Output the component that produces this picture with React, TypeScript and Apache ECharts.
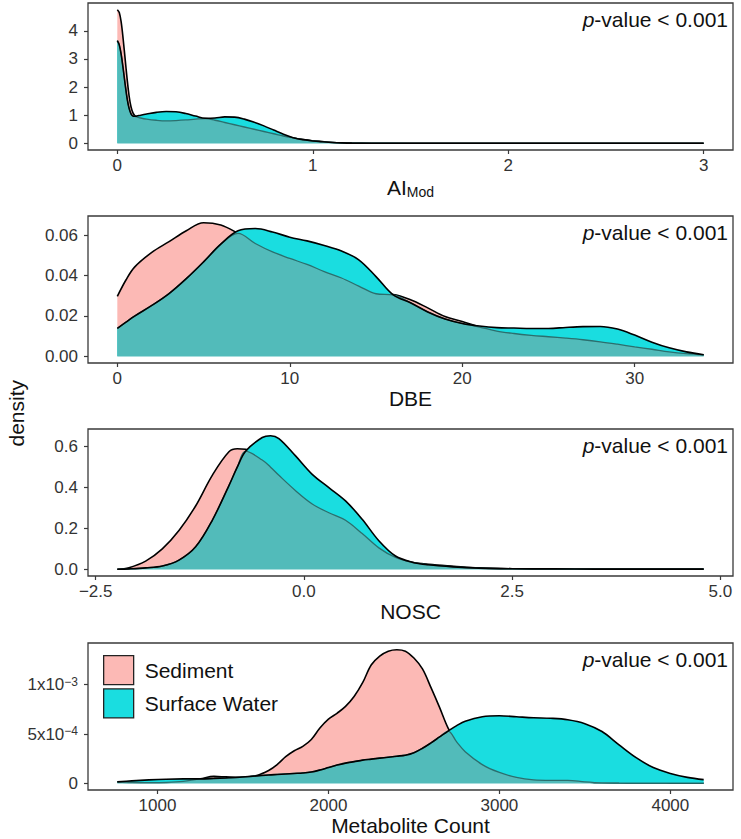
import React, { useEffect, useRef } from "react";
import * as echarts from "echarts";

// ---------- AI_Mod panel ----------
const aiX = [0, 0.01, 0.02, 0.03, 0.04, 0.05, 0.06, 0.07, 0.08, 0.09, 0.1, 0.12, 0.15, 0.2, 0.25, 0.3, 0.35, 0.4, 0.45, 0.5, 0.55, 0.6, 0.65, 0.7, 0.75, 0.8, 0.85, 0.9, 0.95, 1.0, 1.05, 1.1, 1.15, 1.2, 1.3, 1.5, 2.0, 2.5, 3.0];
const aiSediment = [4.75, 4.65, 4.3, 3.7, 3.0, 2.3, 1.7, 1.3, 1.08, 0.98, 0.94, 0.9, 0.86, 0.82, 0.8, 0.81, 0.83, 0.86, 0.88, 0.82, 0.74, 0.66, 0.58, 0.5, 0.42, 0.34, 0.26, 0.19, 0.13, 0.09, 0.06, 0.03, 0.015, 0.008, 0.004, 0.002, 0.001, 0.001, 0.001];
const aiSurfaceWater = [3.65, 3.5, 3.15, 2.65, 2.1, 1.6, 1.25, 1.05, 0.97, 0.96, 0.97, 1.0, 1.04, 1.1, 1.13, 1.12, 1.06, 0.97, 0.89, 0.9, 0.94, 0.93, 0.86, 0.75, 0.62, 0.47, 0.32, 0.2, 0.13, 0.085, 0.055, 0.03, 0.015, 0.007, 0.003, 0.001, 0.0005, 0.0005, 0.0005];
const aiXTicks = [0, 1, 2, 3];
const aiXLabels = ["0", "1", "2", "3"];
const aiYTicks = [0, 1, 2, 3, 4];
const aiYLabels = ["0", "1", "2", "3", "4"];

// ---------- DBE panel ----------
const dbeX = [0, 0.5, 1, 2, 3, 4, 5, 6, 7, 8, 9, 10, 11, 12, 13, 14, 15, 16, 17, 18, 19, 20, 21, 22, 23, 24, 25, 26, 27, 28, 29, 30, 31, 32, 33, 34];
const dbeSediment = [0.0297, 0.0378, 0.0442, 0.0515, 0.0568, 0.0622, 0.0662, 0.065, 0.0609, 0.0559, 0.0517, 0.0485, 0.0455, 0.042, 0.0388, 0.0348, 0.031, 0.0306, 0.028, 0.024, 0.0197, 0.0172, 0.0145, 0.0125, 0.0113, 0.0104, 0.0097, 0.009, 0.0082, 0.0072, 0.006, 0.0047, 0.0035, 0.0022, 0.0013, 0.0007];
const dbeSurfaceWater = [0.0138, 0.0169, 0.0199, 0.0252, 0.0311, 0.0385, 0.0468, 0.0556, 0.0622, 0.0633, 0.0616, 0.059, 0.0572, 0.0549, 0.0522, 0.0478, 0.0395, 0.0304, 0.0265, 0.022, 0.0185, 0.0163, 0.015, 0.0142, 0.014, 0.0138, 0.0138, 0.0143, 0.0147, 0.0148, 0.0135, 0.0105, 0.007, 0.0042, 0.0022, 0.0008];
const dbeXTicks = [0, 10, 20, 30];
const dbeXLabels = ["0", "10", "20", "30"];
const dbeYTicks = [0, 0.02, 0.04, 0.06];
const dbeYLabels = ["0.00", "0.02", "0.04", "0.06"];

// ---------- NOSC panel ----------
const noscX = [-2.24, -2.1, -1.9, -1.7, -1.5, -1.3, -1.1, -0.9, -0.8, -0.7, -0.5, -0.4, -0.3, -0.1, 0.1, 0.3, 0.5, 0.7, 0.9, 1.1, 1.3, 1.5, 1.8, 2.1, 2.5, 3.0, 3.5, 4.0, 4.5, 4.8];
const noscSediment = [0.0, 0.008, 0.04, 0.1, 0.19, 0.31, 0.46, 0.575, 0.59, 0.588, 0.535, 0.5, 0.46, 0.385, 0.32, 0.277, 0.24, 0.175, 0.105, 0.058, 0.034, 0.024, 0.015, 0.007, 0.003, 0.002, 0.001, 0.001, 0.001, 0.001];
const noscSurfaceWater = [0.0, 0.002, 0.007, 0.016, 0.045, 0.11, 0.24, 0.41, 0.5, 0.578, 0.645, 0.654, 0.64, 0.555, 0.465, 0.4, 0.335, 0.245, 0.14, 0.065, 0.035, 0.022, 0.012, 0.006, 0.003, 0.002, 0.001, 0.001, 0.001, 0.001];
const noscXTicks = [-2.5, 0, 2.5, 5];
const noscXLabels = ["\u22122.5", "0.0", "2.5", "5.0"];
const noscYTicks = [0, 0.2, 0.4, 0.6];
const noscYLabels = ["0.0", "0.2", "0.4", "0.6"];

// ---------- Metabolite Count panel ----------
const countX = [765, 850, 950, 1050, 1150, 1250, 1330, 1400, 1480, 1580, 1650, 1700, 1750, 1800, 1850, 1900, 1950, 2000, 2050, 2100, 2150, 2200, 2250, 2300, 2350, 2400, 2450, 2500, 2550, 2600, 2650, 2700, 2750, 2800, 2900, 3000, 3100, 3200, 3300, 3400, 3500, 3600, 3700, 3800, 3900, 4000, 4100, 4195];
const countSediment = [0.15e-4, 0.1e-4, 0.08e-4, 0.1e-4, 0.2e-4, 0.45e-4, 0.7e-4, 0.65e-4, 0.6e-4, 0.8e-4, 1.3e-4, 1.9e-4, 2.7e-4, 3.3e-4, 3.75e-4, 4.45e-4, 5.6e-4, 6.5e-4, 7.1e-4, 7.8e-4, 8.8e-4, 10.2e-4, 12.0e-4, 12.9e-4, 13.4e-4, 13.55e-4, 13.4e-4, 12.7e-4, 11.6e-4, 9.7e-4, 7.7e-4, 5.6e-4, 4.2e-4, 3.2e-4, 1.9e-4, 1.1e-4, 0.6e-4, 0.35e-4, 0.3e-4, 0.3e-4, 0.15e-4, 0.05e-4, 0.03e-4, 0.02e-4, 0.02e-4, 0.01e-4, 0.01e-4, 0.01e-4];
const countSurfaceWater = [0.15e-4, 0.25e-4, 0.35e-4, 0.42e-4, 0.45e-4, 0.45e-4, 0.5e-4, 0.55e-4, 0.62e-4, 0.75e-4, 0.85e-4, 0.9e-4, 0.95e-4, 1.0e-4, 1.05e-4, 1.15e-4, 1.35e-4, 1.6e-4, 1.85e-4, 2.05e-4, 2.2e-4, 2.35e-4, 2.45e-4, 2.55e-4, 2.65e-4, 2.75e-4, 2.85e-4, 3.1e-4, 3.55e-4, 4.1e-4, 4.7e-4, 5.3e-4, 5.85e-4, 6.3e-4, 6.75e-4, 6.85e-4, 6.75e-4, 6.65e-4, 6.6e-4, 6.45e-4, 6.05e-4, 5.25e-4, 3.9e-4, 2.6e-4, 1.6e-4, 1.0e-4, 0.6e-4, 0.37e-4];
const countXTicks = [1000, 2000, 3000, 4000];
const countXLabels = ["1000", "2000", "3000", "4000"];
const countYTicks = [0, 5e-4, 1e-3];
const countYLabels = ["0", "5x10{sup|\u22124}", "1x10{sup|\u22123}"];

const groupNames = ["Sediment", "Surface Water"];
const pValueText = "{i|p}-value < 0.001";
const yTitle = "density";

const PINK = "#FCB9B5";
const CYAN = "#1ADDE0";
const OVERLAP = "#52BBBA";
const HIDDEN_LINE = "#2B6F6E";
const FONT = "'Liberation Sans', Arial, Helvetica, sans-serif";

const GRID_LEFT = 88;
const GRID_RIGHT = 8;
const GRID_TOPS = [3, 216, 429, 643];
const GRID_H = 147;

function expand(lo: number, hi: number): [number, number] {
  const d = (hi - lo) * 0.05;
  return [lo - d, hi + d];
}

function fmt(ticks: number[], labels: string[]) {
  return (v: number) => {
    const i = ticks.findIndex((t) => Math.abs(t - v) < 1e-9 * Math.max(1, Math.abs(t)) + 1e-12);
    return i >= 0 ? labels[i] : "";
  };
}

function buildOption() {
  const panels = [
    { x: aiX, sed: aiSediment, sw: aiSurfaceWater, xt: aiXTicks, xl: aiXLabels, yt: aiYTicks, yl: aiYLabels, name: "{a|AI}{b|Mod}" },
    { x: dbeX, sed: dbeSediment, sw: dbeSurfaceWater, xt: dbeXTicks, xl: dbeXLabels, yt: dbeYTicks, yl: dbeYLabels, name: "DBE" },
    { x: noscX, sed: noscSediment, sw: noscSurfaceWater, xt: noscXTicks, xl: noscXLabels, yt: noscYTicks, yl: noscYLabels, name: "NOSC" },
    { x: countX, sed: countSediment, sw: countSurfaceWater, xt: countXTicks, xl: countXLabels, yt: countYTicks, yl: countYLabels, name: "Metabolite Count" },
  ];

  const grid: any[] = [];
  const xAxis: any[] = [];
  const yAxis: any[] = [];
  const series: any[] = [];
  const graphic: any[] = [];

  panels.forEach((p, k) => {
    grid.push({
      left: GRID_LEFT,
      right: GRID_RIGHT,
      top: GRID_TOPS[k],
      height: GRID_H,
      show: true,
      borderColor: "#3a3a3a",
      borderWidth: 1.3,
      backgroundColor: "#fff",
    });
    const [xmin, xmax] = expand(Math.min(...p.x), Math.max(...p.x));
    const [ymin, ymax] = expand(0, Math.max(...p.sed, ...p.sw));
    xAxis.push({
      type: "value",
      gridIndex: k,
      min: xmin,
      max: xmax,
      position: "bottom",
      axisLine: { show: false, onZero: false },
      splitLine: { show: false },
      axisTick: { show: true, length: 4, customValues: p.xt, lineStyle: { color: "#3a3a3a", width: 1.2 } },
      axisLabel: { customValues: p.xt, formatter: fmt(p.xt, p.xl), fontSize: 17, color: "#333", margin: 7, fontFamily: FONT },
      name: p.name,
      nameLocation: "middle",
      nameGap: 25,
      nameTextStyle: {
        fontSize: 21,
        color: "#111",
        fontFamily: FONT,
        verticalAlign: "top",
        rich: {
          a: { fontSize: 21, color: "#111", fontFamily: FONT },
          b: { fontSize: 14, color: "#111", fontFamily: FONT, padding: [10, 0, 0, 0] },
        },
      },
    });
    yAxis.push({
      type: "value",
      gridIndex: k,
      min: ymin,
      max: ymax,
      position: "left",
      axisLine: { show: false, onZero: false },
      splitLine: { show: false },
      axisTick: { show: true, length: 4, customValues: p.yt, lineStyle: { color: "#3a3a3a", width: 1.2 } },
      axisLabel: {
        customValues: p.yt,
        formatter: fmt(p.yt, p.yl),
        fontSize: 17,
        color: "#333",
        margin: 10,
        fontFamily: FONT,
        rich: { sup: { fontSize: 12, color: "#333", fontFamily: FONT, verticalAlign: "top", padding: [0, 0, 6, 0] } },
      },
    });
    const sedData = p.x.map((v, i) => [v, p.sed[i]]);
    const swData = p.x.map((v, i) => [v, p.sw[i]]);
    const ovData = p.x.map((v, i) => [v, Math.min(p.sed[i], p.sw[i])]);
    const common = { type: "line", xAxisIndex: k, yAxisIndex: k, smooth: 0.35, showSymbol: false, symbol: "none", silent: true };
    series.push({ ...common, name: groupNames[0], data: sedData, z: 1, itemStyle: { color: PINK }, lineStyle: { color: "#000", width: 1.6 }, areaStyle: { color: PINK, opacity: 1 } });
    series.push({ ...common, name: groupNames[1], data: swData, z: 2, itemStyle: { color: CYAN }, lineStyle: { color: CYAN, width: 0, opacity: 0 }, areaStyle: { color: CYAN, opacity: 1 } });
    series.push({ ...common, name: "overlap-" + k, data: ovData, z: 3, itemStyle: { color: OVERLAP }, lineStyle: { color: HIDDEN_LINE, width: 1.3 }, areaStyle: { color: OVERLAP, opacity: 1 } });
    series.push({ ...common, name: "outline-" + k, data: swData, z: 4, itemStyle: { color: "#000" }, lineStyle: { color: "#000", width: 1.6 } });

    graphic.push({
      type: "text",
      right: GRID_RIGHT + 5,
      top: GRID_TOPS[k] + 6,
      style: {
        text: pValueText,
        fontSize: 21,
        fill: "#111",
        fontFamily: FONT,
        rich: { i: { fontStyle: "italic", fontSize: 21, fill: "#111", fontFamily: FONT } },
      },
    });
  });

  graphic.push({
    type: "text",
    left: 6,
    top: 380,
    rotation: Math.PI / 2,
    style: { text: yTitle, fontSize: 21, fill: "#111", fontFamily: FONT },
  });

  return {
    animation: false,
    backgroundColor: "#fff",
    textStyle: { fontFamily: FONT },
    grid,
    xAxis,
    yAxis,
    series,
    graphic,
    legend: {
      left: 103,
      top: 655,
      orient: "vertical",
      icon: "rect",
      itemWidth: 30,
      itemHeight: 29,
      itemGap: 3,
      padding: 0,
      selectedMode: false,
      textStyle: { fontSize: 21, color: "#111", fontFamily: FONT, padding: [0, 0, 0, 6] },
      data: [
        { name: groupNames[0], itemStyle: { color: PINK, borderColor: "#222", borderWidth: 1.3 } },
        { name: groupNames[1], itemStyle: { color: CYAN, borderColor: "#222", borderWidth: 1.3 } },
      ],
    },
  };
}

export default function App() {
  const ref = useRef<HTMLDivElement>(null);
  useEffect(() => {
    if (!ref.current) return;
    const chart = echarts.init(ref.current, undefined, { renderer: "svg" });
    chart.setOption(buildOption() as any);
    return () => chart.dispose();
  }, []);
  return (
    <div
      ref={ref}
      style={{ position: "absolute", left: 0, top: 0, width: 741, height: 839, background: "#fff" }}
    />
  );
}
